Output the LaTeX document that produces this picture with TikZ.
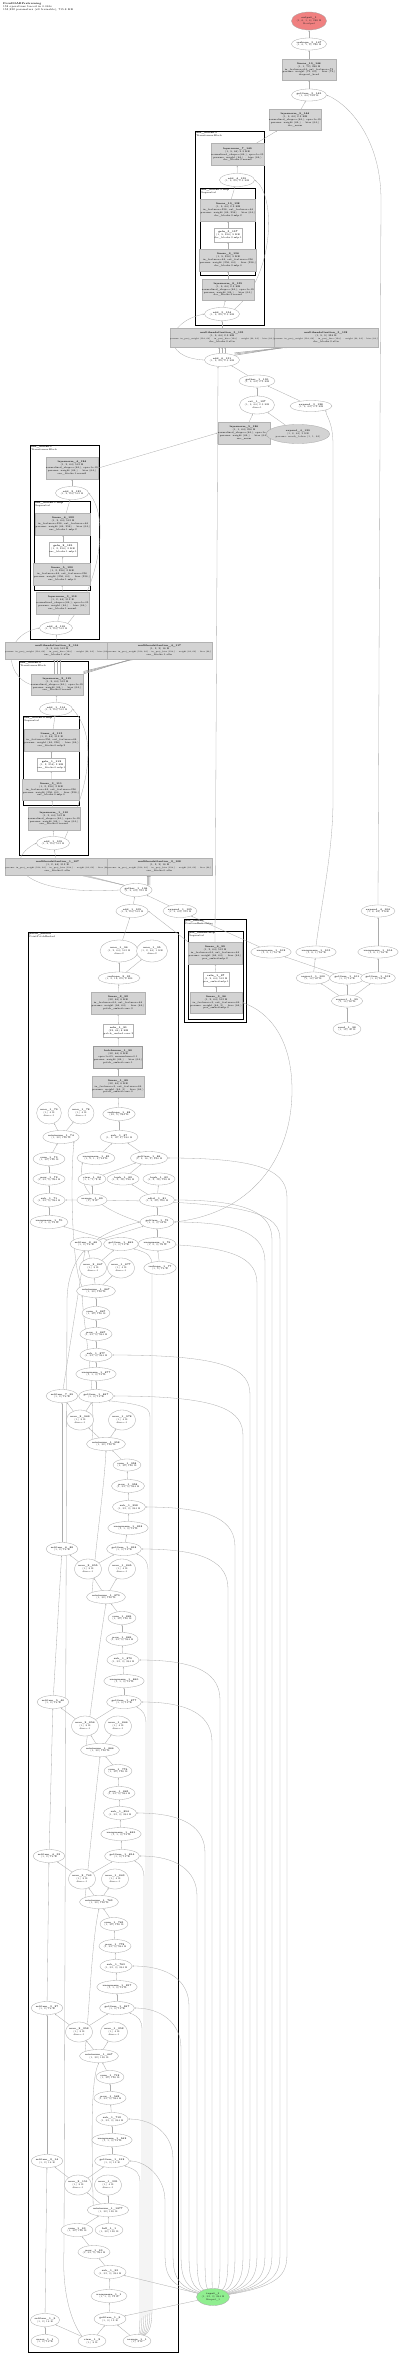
\documentclass[tikz,border=0pt]{standalone}
\usepackage{fontspec}
\usetikzlibrary{shapes.geometric,arrows.meta}
\definecolor{outred}{HTML}{F08080}
\definecolor{ingreen}{HTML}{90EE90}
\definecolor{modgray}{HTML}{D3D3D3}
\newcommand\tinyfs{\fontsize{2.4}{2.9}\selectfont}
\pgfdeclarelayer{back}\pgfdeclarelayer{mid}\pgfsetlayers{back,mid,main}
\tikzset{
 op/.style={ellipse, draw=gray!70, line width=0.3pt, fill=white, inner sep=0pt, align=center, font=\tinyfs, text=black!85},
 mod/.style={rectangle, draw=gray!60, line width=0.3pt, fill=modgray, inner sep=0.3pt, align=center, font=\tinyfs},
 wbox/.style={rectangle, draw=gray!60, line width=0.3pt, fill=white, inner sep=0.3pt, align=center, font=\tinyfs},
 ed/.style={-{Stealth[length=1.6pt,width=1.2pt]}, draw=gray!65, line width=0.3pt},
 bed/.style={-{Stealth[length=1.8pt,width=1.4pt]}, draw=gray!75, line width=0.5pt},
 clu/.style={draw=black, line width=0.9pt},
 clui/.style={draw=black, line width=0.6pt},
 clab/.style={anchor=north west, font=\tinyfs, align=left, inner sep=0.6pt},
}
\newcommand\opE[5]{\node[op,minimum width=#3pt,minimum height=#4pt] (#1) at (#2) {#5};}
\newcommand\opB[5]{\node[mod,minimum width=#3pt,minimum height=#4pt] (#1) at (#2) {#5};}
\newcommand\opW[5]{\node[wbox,minimum width=#3pt,minimum height=#4pt] (#1) at (#2) {#5};}
\newcommand\nm[1]{\textbf{#1}}
\newcommand\mhaparams{{\fontsize{1.95}{2.9}\selectfont params: in\_proj\_weight (192, 64) · in\_proj\_bias (192,) · weight (64, 64) · bias (64,)}}
\newcommand\lnparams{normalized\_shape=(64,), eps=1e-05\\params: weight (64,) · bias (64,)}
\newcommand\fpsE[8]{\draw[ed] (#1)--(#2); \draw[ed] (#2)--(#3); \draw[ed] (#3)--(#4); \draw[ed] (#4)--(#5); \draw[ed] (#5)--(#6); \draw[ed] (#6)--(#7); \draw[ed] (#6)--(#8);}
\newcommand\inE[3]{\draw[ed] (in1) .. controls (#2,2285) and (#2,2270) .. (#2,2250) -- (#2,#3+40) .. controls (#2,#3+15) and (#2-20,#3) .. (#1.east);}
\newcommand\arE[3]{\draw[ed] (ar1) .. controls (#2,2330) and (#2,2320) .. (#2,2300) -- (#2,#3+22) .. controls (#2,#3+12) and (#2-3,#3+9) .. (#1.south east);}
\begin{document}
\begin{tikzpicture}[x=1pt,y=-1pt]
\useasboundingbox (0,0) rectangle (400,2355);
\begin{pgfonlayer}{back}
\fill[white] (0,0) rectangle (400,2355);
\draw[clu] (195,131) rectangle (264,325);
\draw[clui] (200,188) rectangle (255,275);
\draw[clu] (30,445) rectangle (99,639);
\draw[clui] (34,501) rectangle (90,590);
\draw[clu] (19,661) rectangle (88,855);
\draw[clui] (23,716) rectangle (79,805);
\draw[clu] (28,932) rectangle (178,2352);
\draw[clu] (184,919) rectangle (246,1022);
\draw[clui] (188,931) rectangle (243,1019);
\end{pgfonlayer}
\node[clab] (L1) at (195.5,131.5) {\textbf{dec\_blocks.3}\\TransformerBlock};
\node[clab] (L2) at (200.5,188.5) {\textbf{dec\_blocks.3.mlp}\\Sequential};
\node[clab] (L3) at (30.5,445.5) {\textbf{enc\_blocks.1}\\TransformerBlock};
\node[clab] (L4) at (34.5,501.5) {\textbf{enc\_blocks.1.mlp}\\Sequential};
\node[clab] (L5) at (19.5,661.5) {\textbf{enc\_blocks.0}\\TransformerBlock};
\node[clab] (L6) at (23.5,716.5) {\textbf{enc\_blocks.0.mlp}\\Sequential};
\node[clab] (L7) at (28.5,932.5) {\textbf{patch\_embed}\\PointPatchEmbed};
\node[clab] (L8) at (184.5,919.5) {\textbf{pos\_embed}\\PositionEmbedding};
\node[clab] (L9) at (188.5,931.5) {\textbf{pos\_embed.mlp}\\Sequential};
\node[anchor=north west,font=\fontsize{2.6}{3.1}\selectfont,align=left,inner sep=0pt] (title) at (3,2) {\textbf{PointMAEPretraining}\\152 operations traced in 0.061s\\153,232 parameters (all trainable), 715.8 KB};
% ---- top
\node[op,fill=outred,minimum width=35pt,minimum height=18pt] (out1) at (309,21) {\nm{output\_1}\\(1, 6, 1, 6) 288 B\\@output};
\opE{rs147}{309,44}{35}{12}{\nm{reshape\_3\_147}\\(1, 6, 1, 6) 288 B}
\opB{ln146}{309,69.5}{44}{21}{\nm{linear\_10\_146}\\(1, 1, 72) 288 B\\in\_features=64, out\_features=72\\params: weight (72, 64) · bias (72,)\\dropout\_head}
\opE{g145}{309,95}{35}{12}{\nm{getitem\_3\_145}\\(1, 64) 256 B}
\opB{ln144}{295,120}{46}{21}{\nm{layernorm\_9\_144}\\(1, 9, 64) 2.3 KB\\\lnparams\\dec\_norm}
\opB{ln140}{237.5,154.5}{47}{22}{\nm{layernorm\_7\_140}\\(1, 9, 64) 2.3 KB\\\lnparams\\dec\_blocks.3.norm2}
\opE{a139}{237,180}{35}{13}{\nm{add\_4\_139}\\(1, 9, 64) 2.3 KB}
\opB{l138}{228,210}{48}{22}{\nm{linear\_10\_138}\\(1, 9, 64) 2.3 KB\\in\_features=256, out\_features=64\\params: weight (64, 256) · bias (64,)\\dec\_blocks.3.mlp.2}
\opW{ge137}{228,235}{28}{14}{\nm{gelu\_3\_137}\\(1, 9, 256) 9 KB\\dec\_blocks.3.mlp.1}
\opB{l136}{228,260}{48}{22}{\nm{linear\_9\_136}\\(1, 9, 256) 9 KB\\in\_features=64, out\_features=256\\params: weight (256, 64) · bias (256,)\\dec\_blocks.3.mlp.0}
\opB{ln135}{228,289.5}{46}{21}{\nm{layernorm\_8\_135}\\(1, 9, 64) 2.3 KB\\\lnparams\\dec\_blocks.3.norm1}
\opE{a134}{222,314}{35}{13}{\nm{add\_3\_134}\\(1, 9, 64) 2.3 KB}
\opB{m133}{222,337.5}{100}{19}{\nm{multiheadattention\_3\_133}\\(1, 9, 64) 2.3 KB\\\mhaparams\\dec\_blocks.3.attn}
\opB{m132}{326,337.5}{100}{19}{\nm{multiheadattention\_3\_132}\\(1, 9, 9) 324 B\\\mhaparams\\dec\_blocks.3.attn}
\opE{a131}{222,360}{35}{13}{\nm{add\_6\_131}\\(1, 9, 64) 2.3 KB}
\opE{g130}{257,381}{36}{12}{\nm{gather\_1\_130}\\(1, 9, 64) 2.3 KB}
\opE{c127}{257,405}{35}{18}{\nm{cat\_1\_127}\\(1, 9, 64) 2.3 KB\\dim=1}
\opE{e128}{311,406}{42}{11}{\nm{expand\_3\_128}\\(1, 9, 64) 2.3 KB}
\opB{ln126}{244,433}{46}{22}{\nm{layernorm\_5\_126}\\(1, 1, 64) 256 B\\\lnparams\\enc\_norm}
\node[op,fill=modgray,minimum width=55pt,minimum height=19pt] (e129) at (298,434) {\nm{expand\_4\_129}\\(1, 8, 64) 2 KB\\params: mask\_token (1, 1, 64)};
% ---- enc_blocks.1
\opB{ln124}{72,468}{46}{22}{\nm{layernorm\_4\_124}\\(1, 2, 64) 512 B\\\lnparams\\enc\_blocks.1.norm2}
\opE{a123}{72,493}{33}{13}{\nm{add\_2\_123}\\(1, 2, 64) 512 B}
\opB{l122}{63,524}{46}{22}{\nm{linear\_6\_122}\\(1, 2, 64) 512 B\\in\_features=256, out\_features=64\\params: weight (64, 256) · bias (64,)\\enc\_blocks.1.mlp.2}
\opW{ge121}{63,549}{28}{14}{\nm{gelu\_2\_121}\\(1, 2, 256) 2 KB\\enc\_blocks.1.mlp.1}
\opB{l120}{62,574}{48}{22}{\nm{linear\_5\_120}\\(1, 2, 256) 2 KB\\in\_features=64, out\_features=256\\params: weight (256, 64) · bias (256,)\\enc\_blocks.1.mlp.0}
\opB{ln119}{62.5,603}{45}{22}{\nm{layernorm\_3\_119}\\(1, 2, 64) 512 B\\\lnparams\\enc\_blocks.1.norm1}
\opE{a118}{56,628}{33}{13}{\nm{add\_4\_118}\\(1, 2, 64) 512 B}
\opB{m116}{57,650.5}{100}{17}{\nm{multiheadattention\_2\_116}\\(1, 2, 64) 512 B\\\mhaparams\\enc\_blocks.1.attn}
\opB{m117}{159.5,650.5}{101}{17}{\nm{multiheadattention\_4\_117}\\(1, 2, 2) 16 B\\\mhaparams\\enc\_blocks.1.attn}
% ---- enc_blocks.0
\opB{ln115}{57,684.5}{46}{21}{\nm{layernorm\_2\_115}\\(1, 2, 64) 512 B\\\lnparams\\enc\_blocks.0.norm2}
\opE{a114}{56,709}{33}{13}{\nm{add\_1\_114}\\(1, 2, 64) 512 B}
\opB{l113}{51.5,740}{47}{22}{\nm{linear\_4\_113}\\(1, 2, 64) 512 B\\in\_features=256, out\_features=64\\params: weight (64, 256) · bias (64,)\\enc\_blocks.0.mlp.2}
\opW{ge112}{51.5,764.5}{27}{13}{\nm{gelu\_1\_112}\\(1, 2, 256) 2 KB\\enc\_blocks.0.mlp.1}
\opB{l111}{51,789.5}{48}{21}{\nm{linear\_3\_111}\\(1, 2, 256) 2 KB\\in\_features=64, out\_features=256\\params: weight (256, 64) · bias (256,)\\enc\_blocks.0.mlp.0}
\opB{ln110}{54,818.5}{46}{23}{\nm{layernorm\_1\_110}\\(1, 2, 64) 512 B\\\lnparams\\enc\_blocks.0.norm1}
\opE{a109}{53,843}{33}{13}{\nm{add\_1\_109}\\(1, 2, 64) 512 B}
\opB{m107}{57.5,866.5}{101}{17}{\nm{multiheadattention\_1\_107}\\(1, 2, 64) 512 B\\\mhaparams\\enc\_blocks.0.attn}
\opB{m108}{159.5,866.5}{101}{17}{\nm{multiheadattention\_2\_108}\\(1, 2, 2) 16 B\\\mhaparams\\enc\_blocks.0.attn}
\opE{g106}{136,890}{32}{13}{\nm{gather\_1\_106}\\(1, 2, 64) 512 B}
\opE{a105}{132,911}{29}{13}{\nm{add\_1\_105}\\(1, 2, 64) 512 B}
\opE{e105}{180,911}{29}{13}{\nm{expand\_1\_105}\\(1, 2, 64) 512 B}
% ---- right group
\opE{e104}{378,911}{30}{12}{\nm{expand\_4\_104}\\(1, 8, 64) 2 KB}
\opE{u102}{271,952}{31}{12}{\nm{unsqueeze\_1\_102}\\(1, 2, 1) 16 B}
\opE{u103}{316,952}{28}{12}{\nm{unsqueeze\_1\_103}\\(1, 8, 1) 64 B}
\opE{u104}{378,952}{30}{12}{\nm{unsqueeze\_1\_104}\\(1, 8, 1) 64 B}
\opE{g100}{313,978}{26}{12}{\nm{argsort\_1\_100}\\(1, 10) 80 B}
\opE{g101}{347,978}{26}{12}{\nm{getitem\_1\_101}\\(1, 2) 16 B}
\opE{g102}{378,978}{26}{12}{\nm{getitem\_1\_102}\\(1, 8) 64 B}
\opE{as99}{347,1001}{28}{12}{\nm{argsort\_1\_99}\\(1, 10) 80 B}
\opE{r98}{347,1029}{28}{13}{\nm{rand\_1\_98}\\(1, 10) 40 B}
% ---- pos embed
\opB{l99}{215,953}{46}{22}{\nm{linear\_4\_99}\\(1, 2, 64) 512 B\\in\_features=64, out\_features=64\\params: weight (64, 64) · bias (64,)\\pos\_embed.mlp.2}
\opW{r97}{216,979}{24}{14}{\nm{relu\_1\_97}\\(1, 2, 64) 512 B\\pos\_embed.mlp.1}
\opB{l96}{216,1002.5}{44}{21}{\nm{linear\_3\_96}\\(1, 2, 64) 512 B\\in\_features=3, out\_features=64\\params: weight (64, 3) · bias (64,)\\pos\_embed.mlp.0}
% ---- patch embed top
\opE{x94}{119,951}{38}{22}{\nm{max\_1\_94}\\(1, 2, 64) 512 B\\dim=2}
\opE{x95}{152,951}{26}{22}{\nm{max\_1\_95}\\(1, 2, 64) 1 KB\\dim=2}
\opE{rs93}{119,978}{42}{12}{\nm{reshape\_2\_93}\\(1, 2, 16, 64) 8 KB}
\opB{l92}{118,1003}{44}{22}{\nm{linear\_2\_92}\\(32, 64) 8 KB\\in\_features=64, out\_features=64\\params: weight (64, 64) · bias (64,)\\patch\_embed.conv.3}
\opW{r91}{118.5,1030.5}{29}{13}{\nm{relu\_1\_91}\\(32, 64) 8 KB\\patch\_embed.conv.2}
\node[mod,draw=gray!80,line width=0.7pt,minimum width=42pt,minimum height=22pt] (bn90) at (118,1057) {\nm{batchnorm\_1\_90}\\(32, 64) 8 KB\\eps=1e-05, momentum=0.1\\params: weight (64,) · bias (64,)\\patch\_embed.conv.1};
\opB{l89}{118,1086.5}{42}{21}{\nm{linear\_1\_89}\\(32, 64) 8 KB\\in\_features=3, out\_features=64\\params: weight (64, 3) · bias (64,)\\patch\_embed.conv.0}
\opE{rs88}{119,1114}{32}{13}{\nm{reshape\_1\_88}\\(32, 3) 384 B}
\opE{s87}{119,1137}{38}{13}{\nm{sub\_1\_87}\\(1, 2, 16, 3) 384 B}
\opE{u85}{96,1158}{32}{13}{\nm{unsqueeze\_1\_85}\\(1, 2, 1, 3) 24 B}
\opE{g86}{149,1158}{34}{13}{\nm{getitem\_1\_86}\\(1, 2, 16, 3) 384 B}
\opE{x79}{49,1113}{24}{22}{\nm{max\_1\_79}\\(1,) 4 B\\dim=-1}
\opE{x78}{81,1113}{26}{22}{\nm{max\_1\_78}\\(1,) 4 B\\dim=-1}
\opE{mn74}{61,1137}{36}{13}{\nm{minimum\_1\_74}\\(1, 32) 128 B}
\opE{sm73}{49,1159}{32}{13}{\nm{sum\_1\_73}\\(1, 32) 128 B}
\opE{pw72}{49,1179}{32}{12}{\nm{pow\_1\_72}\\(1, 32, 3) 384 B}
\opE{v84}{92,1179}{28}{12}{\nm{view\_1\_84}\\(1, 1, 1) 8 B}
\opE{t82}{123,1179}{31}{12}{\nm{topk\_1\_82}\\(1, 2, 16) 128 B}
\opE{t83}{159,1179}{31}{12}{\nm{topk\_1\_83}\\(1, 2, 16) 128 B}
\opE{s71}{49,1200}{32}{13}{\nm{sub\_1\_71}\\(1, 32, 3) 384 B}
\opE{rs80}{92,1200}{28}{12}{\nm{arange\_1\_80}\\(1,) 8 B}
\opE{cd81}{157,1200}{35}{13}{\nm{cdist\_1\_81}\\(1, 2, 32) 256 B}
\opE{u70}{49,1222}{36}{13}{\nm{unsqueeze\_1\_70}\\(1, 1, 3) 12 B}
\opE{g75}{157,1222}{34}{13}{\nm{getitem\_1\_75}\\(1, 2, 3) 24 B}
\opE{st68}{86,1244}{28}{13}{\nm{setitem\_8\_68}\\(1, 2) 16 B}
\opE{g869}{121,1244}{32}{13}{\nm{getitem\_1\_869}\\(1, 3) 12 B}
\opE{u76}{157,1244}{34}{13}{\nm{unsqueeze\_1\_76}\\(1, 2, 3) 24 B}
\opE{xa867}{93,1268}{26}{20}{\nm{max\_2\_867}\\(1,) 8 B\\dim=-1}
\opE{xb877}{121,1268}{26}{20}{\nm{max\_1\_877}\\(1,) 4 B\\dim=-1}
\opE{rs77}{160,1268}{28}{13}{\nm{reshape\_1\_77}\\(1, 2) 16 B}
% ---- FPS block 6
\opE{mn867}{96,1291}{36}{13}{\nm{minimum\_1\_867}\\(1, 32) 128 B}
\opE{sm867}{96,1313}{28}{13}{\nm{sum\_1\_867}\\(1, 32) 128 B}
\opE{pw867}{96,1334}{30}{13}{\nm{pow\_1\_867}\\(1, 32, 3) 384 B}
\opE{sb877}{96,1355}{32}{13}{\nm{sub\_1\_877}\\(1, 32, 3) 384 B}
\opE{un877}{96,1374}{36}{13}{\nm{unsqueeze\_1\_877}\\(1, 1, 3) 12 B}
\opE{st99}{62,1396}{28}{13}{\nm{setitem\_7\_99}\\(1, 2) 16 B}
\opE{g867}{96,1396}{33}{13}{\nm{getitem\_1\_867}\\(1, 3) 12 B}
\opE{xa969}{80,1420}{27}{20}{\nm{max\_2\_969}\\(1,) 8 B\\dim=-1}
\opE{xb978}{122,1420}{26}{20}{\nm{max\_1\_978}\\(1,) 4 B\\dim=-1}
% ---- block 5
\opE{mn958}{106,1444}{36}{13}{\nm{minimum\_1\_958}\\(1, 32) 128 B}
\opE{sm958}{127,1465}{28}{12}{\nm{sum\_1\_958}\\(1, 32) 128 B}
\opE{pw958}{128,1486}{33}{13}{\nm{pow\_1\_958}\\(1, 32, 3) 384 B}
\opE{sb958}{129,1507}{33}{13}{\nm{sub\_1\_958}\\(1, 32, 3) 384 B}
\opE{un958}{128,1528}{36}{13}{\nm{unsqueeze\_1\_958}\\(1, 1, 3) 12 B}
\opE{g958}{124,1549}{32}{13}{\nm{getitem\_1\_958}\\(1, 3) 12 B}
\opE{st88}{62,1549}{28}{13}{\nm{setitem\_6\_88}\\(1, 2) 16 B}
\opE{xa855}{88,1569}{26}{20}{\nm{max\_2\_855}\\(1,) 8 B\\dim=-1}
\opE{xb865}{122,1569}{26}{20}{\nm{max\_1\_865}\\(1,) 4 B\\dim=-1}
% ---- block 4
\opE{mn870}{106,1597}{36}{13}{\nm{minimum\_1\_870}\\(1, 32) 128 B}
\opE{sm869}{122,1618}{28}{13}{\nm{sum\_1\_869}\\(1, 32) 128 B}
\opE{pw869}{122,1639}{30}{13}{\nm{pow\_1\_869}\\(1, 32, 3) 384 B}
\opE{sb870}{123,1660}{32}{13}{\nm{sub\_1\_870}\\(1, 32, 3) 384 B}
\opE{un860}{124,1681}{36}{13}{\nm{unsqueeze\_1\_860}\\(1, 1, 3) 12 B}
\opE{g877}{124,1702}{32}{13}{\nm{getitem\_1\_877}\\(1, 3) 12 B}
\opE{st40}{53,1702}{28}{13}{\nm{setitem\_5\_40}\\(1, 2) 16 B}
\opE{xa854}{85,1726}{27}{20}{\nm{max\_2\_854}\\(1,) 8 B\\dim=-1}
\opE{xb864}{118,1726}{26}{20}{\nm{max\_1\_864}\\(1,) 4 B\\dim=-1}
% ---- block 3
\opE{mn864}{100,1750}{34}{13}{\nm{minimum\_1\_864}\\(1, 32) 128 B}
\opE{sm774}{118,1771}{28}{13}{\nm{sum\_1\_774}\\(1, 32) 128 B}
\opE{pw863}{119,1793}{32}{13}{\nm{pow\_1\_863}\\(1, 32, 3) 384 B}
\opE{sb854}{120,1813}{33}{13}{\nm{sub\_1\_854}\\(1, 32, 3) 384 B}
\opE{un845}{121,1834}{36}{13}{\nm{unsqueeze\_1\_845}\\(1, 1, 3) 12 B}
\opE{g854}{122,1856}{32}{13}{\nm{getitem\_1\_854}\\(1, 3) 12 B}
\opE{st32}{49,1856}{28}{13}{\nm{setitem\_4\_32}\\(1, 2) 16 B}
\opE{xa763}{82,1879}{27}{20}{\nm{max\_2\_763}\\(1,) 8 B\\dim=-1}
\opE{xb863}{115,1879}{26}{20}{\nm{max\_1\_863}\\(1,) 4 B\\dim=-1}
% ---- block 2
\opE{mn763}{99,1902}{36}{13}{\nm{minimum\_1\_763}\\(1, 32) 128 B}
\opE{sm763}{114,1924}{28}{13}{\nm{sum\_1\_763}\\(1, 32) 128 B}
\opE{pw778}{115,1946}{32}{13}{\nm{pow\_1\_778}\\(1, 32, 3) 384 B}
\opE{sb763}{116,1966}{32}{13}{\nm{sub\_1\_763}\\(1, 32, 3) 384 B}
\opE{un257}{117,1987}{36}{13}{\nm{unsqueeze\_1\_257}\\(1, 1, 3) 12 B}
\opE{g267}{117,2008}{33}{13}{\nm{getitem\_1\_267}\\(1, 3) 12 B}
\opE{st27}{47,2008}{28}{13}{\nm{setitem\_3\_27}\\(1, 2) 16 B}
\opE{xa252}{79,2032}{27}{20}{\nm{max\_2\_252}\\(1,) 8 B\\dim=-1}
\opE{xb252}{114,2032}{26}{20}{\nm{max\_1\_252}\\(1,) 4 B\\dim=-1}
% ---- block 1
\opE{mn667}{99,2056}{36}{13}{\nm{minimum\_1\_667}\\(1, 32) 128 B}
\opE{sm712}{110,2077}{28}{13}{\nm{sum\_1\_712}\\(1, 32) 128 B}
\opE{pw562}{110,2098}{32}{13}{\nm{pow\_1\_562}\\(1, 32, 3) 384 B}
\opE{sb712}{112,2119}{32}{13}{\nm{sub\_1\_712}\\(1, 32, 3) 384 B}
\opE{un562}{112,2140}{36}{13}{\nm{unsqueeze\_1\_562}\\(1, 1, 3) 12 B}
\opE{st14}{47,2161}{28}{13}{\nm{setitem\_2\_14}\\(1, 2) 16 B}
\opE{g152}{112,2161}{32}{13}{\nm{getitem\_1\_152}\\(1, 3) 12 B}
\opE{xa151}{78,2185}{26}{20}{\nm{max\_2\_151}\\(1,) 8 B\\dim=-1}
\opE{xb321}{108,2185}{26}{20}{\nm{max\_1\_321}\\(1,) 4 B\\dim=-1}
% ---- block 0
\opE{mn1877}{108,2210}{36}{13}{\nm{minimum\_1\_1877}\\(1, 32) 128 B}
\opE{sm93}{77,2230}{32}{13}{\nm{sum\_1\_93}\\(1, 32) 128 B}
\opE{fl1}{109,2230}{28}{13}{\nm{full\_1\_1}\\(1, 32) 128 B}
\opE{pw93}{94,2252}{32}{13}{\nm{pow\_1\_93}\\(1, 32, 3) 384 B}
\opE{sb93}{110,2272}{32}{13}{\nm{sub\_1\_93}\\(1, 32, 3) 384 B}
\opE{un1}{109,2296}{36}{13}{\nm{unsqueeze\_1\_1}\\(1, 1, 3) 12 B}
\opE{st9}{45,2320}{28}{13}{\nm{setitem\_1\_9}\\(1, 2) 16 B}
\opE{g9}{110,2319}{32}{13}{\nm{getitem\_1\_9}\\(1, 3) 12 B}
\opE{zr1}{45,2341}{28}{13}{\nm{zeros\_1\_1}\\(1, 2) 16 B}
\opE{vw2}{92,2341}{28}{13}{\nm{view\_1\_2}\\(1,) 8 B}
\opE{ar1}{137,2341}{28}{13}{\nm{arange\_1\_1}\\(1,) 8 B}
\node[op,fill=ingreen,minimum width=33pt,minimum height=17pt] (in1) at (213,2297) {\nm{input\_1}\\(1, 32, 3) 384 B\\@input\_1};
% ================= edges
\begin{pgfonlayer}{mid}
\draw[ed] (rs147)--(out1);
\draw[ed] (ln146)--(rs147);
\draw[ed] (g145)--(ln146);
\draw[ed] (ln144)--(g145);
\draw[ed] (e104.north) -- (381,200) .. controls (381,140) and (350,105) .. (g145.east);
\draw[ed] (ln140)--(ln144);
\draw[ed] (a139)--(ln140);
\draw[ed] (l138)--(a139);
\draw[ed] (ge137)--(l138);
\draw[ed] (l136)--(ge137);
\draw[ed] (ln135)--(l136);
\draw[ed] (a134)--(ln135);
\draw[ed] (a134.north east) .. controls (275,275) and (276,195) .. (a139.east);
\draw[ed] (m133)--(a134);
\foreach \d in {-3,0,3} \draw[ed] ([xshift=\d pt]a131.north) -- ([xshift=\d pt]m133.south);
\foreach \d in {0,1.2,2.4} \draw[bed] ([yshift=\d pt]a131.north east) -- ([xshift=\d pt-40pt]m132.south);
\draw[ed] (a131.west) .. controls (160,358) and (165,322) .. (a134.west);
\draw[ed] (g130)--(a131);
\draw[ed] (l99.north) -- ([xshift=-4pt]a131.south);
\draw[ed] (c127)--(g130);
\draw[ed] (e128)--(g130);
\draw[ed] (ln126)--(c127);
\draw[ed] (e129)--(c127);
\draw[ed] (u103.north) .. controls (322,900) and (333,850) .. (333,800) -- (333,445) .. controls (333,420) and (325,415) .. (e128.south east);
\draw[ed] (ln124.east)--(ln126.west);
% enc1
\draw[ed] (a123)--(ln124);
\draw[ed] (l122)--(a123);
\draw[ed] (ge121)--(l122);
\draw[ed] (l120)--(ge121);
\draw[ed] (ln119)--(l120);
\draw[ed] (a118)--(ln119);
\draw[ed] (a118.north east) .. controls (96,592) and (112,520) .. (a123.east);
\draw[ed] (m116)--(a118);
\foreach \d in {-3,0,3} \draw[ed] ([xshift=\d pt]ln115.north) -- ([xshift=\d pt]m116.south);
\foreach \d in {0,1.2,2.4} \draw[bed] ([yshift=\d pt]ln115.north east) -- ([xshift=\d pt-28pt]m117.south);
\draw[ed] (ln115.west) .. controls (6,676) and (1,636) .. (a118.west);
% enc0
\draw[ed] (a114)--(ln115);
\draw[ed] (l113)--(a114);
\draw[ed] (ge112)--(l113);
\draw[ed] (l111)--(ge112);
\draw[ed] (ln110)--(l111);
\draw[ed] (a109)--(ln110);
\draw[ed] (a109.north east) .. controls (86,792) and (100,740) .. (a114.east);
\draw[ed] (m107)--(a109);
\foreach \d in {22,25,28} \draw[ed] (g106.north west) -- ([xshift=\d pt]m107.south);
\foreach \d in {0,1.2,2.4} \draw[bed] ([xshift=\d pt]g106.north east) -- ([xshift=\d pt-12pt]m108.south);
\draw[ed] (g106.west) .. controls (20,896) and (1,862) .. (a109.west);
\draw[ed] (a105)--(g106);
\draw[ed] (e105)--(g106);
\draw[ed] (x94)--(a105);
\draw[ed] (l99.north west)--(a105.east);
\draw[ed] (u102)--(e105);
\draw[ed] (u104)--(e104);
\draw[ed] (g100)--(u103);
\draw[ed] (g101)--(u102);
\draw[ed] (g102)--(u104);
\draw[ed] (as99)--(g100);
\draw[ed] (as99)--(g101);
\draw[ed] (as99)--(g102);
\draw[ed] (r98)--(as99);
% pos embed
\draw[ed] (r97)--(l99);
\draw[ed] (l96)--(r97);
\draw[ed] (g75.east) .. controls (250,1214) and (292,1160) .. (292,1090) .. controls (292,1040) and (270,1012) .. (l96.east);
% patch embed top
\draw[ed] (rs93)--(x94);
\draw[ed] (rs93)--(x95);
\draw[ed] (l92)--(rs93);
\draw[ed] (r91)--(l92);
\draw[ed] (bn90)--(r91);
\draw[ed] (l89)--(bn90);
\draw[ed] (rs88)--(l89);
\draw[ed] (s87)--(rs88);
\draw[ed] (u85)--(s87);
\draw[ed] (g86)--(s87);
\draw[ed] (t82)--(g86);
\draw[ed] (v84)--(g86);
\draw[ed] (rs80)--(v84);
\draw[ed] (cd81)--(t83);
\draw[ed] (cd81)--(t82);
\draw[ed] (g75)--(cd81);
\draw[ed] (u76)--(g75);
\draw[ed] (rs77)--(u76);
\draw[ed] (st68)--(g75);
\draw[ed] (g75.west) .. controls (110,1212) and (76,1196) .. (u85.south west);
\draw[ed] (vw2.north west) .. controls (70,2320) and (62,2290) .. (64,2250) -- (67,1300) .. controls (68,1250) and (100,1232) .. (g75.west);
% FPS blocks
\fpsE{g9}{un1}{sb93}{pw93}{sm93}{mn1877}{xa151}{xb321}
\fpsE{g152}{un562}{sb712}{pw562}{sm712}{mn667}{xa252}{xb252}
\fpsE{g267}{un257}{sb763}{pw778}{sm763}{mn763}{xa763}{xb863}
\fpsE{g854}{un845}{sb854}{pw863}{sm774}{mn864}{xa854}{xb864}
\fpsE{g877}{un860}{sb870}{pw869}{sm869}{mn870}{xa855}{xb865}
\fpsE{g958}{un958}{sb958}{pw958}{sm958}{mn958}{xa969}{xb978}
\fpsE{g867}{un877}{sb877}{pw867}{sm867}{mn867}{xa867}{xb877}
\fpsE{g869}{u70}{s71}{pw72}{sm73}{mn74}{x79}{x78}
\draw[ed] (xa151)--(g152); \draw[ed] (xa151)--(st14);
\draw[ed] (xa252)--(g267); \draw[ed] (xa252)--(st27);
\draw[ed] (xa763)--(g854); \draw[ed] (xa763)--(st32);
\draw[ed] (xa854)--(g877); \draw[ed] (xa854)--(st40);
\draw[ed] (xa855)--(g958); \draw[ed] (xa855)--(st88);
\draw[ed] (xa969)--(g867); \draw[ed] (xa969)--(st99);
\draw[ed] (xa867)--(g869); \draw[ed] (xa867)--(st68);
\draw[ed] (fl1)--(mn1877);
\draw[ed] (mn1877.north west) .. controls (92,2150) and (90,2080) .. (mn667.south);
\draw[ed] (mn667.north west) .. controls (90,2000) and (92,1940) .. (mn763.south);
\draw[ed] (mn763.north west) .. controls (90,1850) and (96,1790) .. (mn864.south);
\draw[ed] (mn864.north west) .. controls (92,1700) and (100,1640) .. (mn870.south);
\draw[ed] (mn870.north west) .. controls (96,1540) and (104,1490) .. (mn958.south);
\draw[ed] (mn958.north west) .. controls (96,1390) and (84,1330) .. (mn867.south west);
\draw[ed] (mn867.north west) .. controls (72,1270) and (70,1180) .. (mn74.south east);
\draw[ed] (zr1)--(st9); \draw[ed] (st9)--(st14); \draw[ed] (st14)--(st27); \draw[ed] (st27)--(st32);
\draw[ed] (st32)--(st40); \draw[ed] (st40)--(st88); \draw[ed] (st88)--(st99); \draw[ed] (st99)--(st68);
\draw[ed] (vw2)--(st9);
\draw[ed] (vw2)--(g9);
\draw[ed] (ar1)--(g9);
\arE{g152}{140}{2161}
\arE{g267}{142}{2008}
\arE{g854}{144}{1856}
\arE{g877}{146}{1702}
\arE{g958}{148}{1549}
\arE{g867}{150}{1396}
\arE{g869}{152}{1244}
\inE{g86}{287}{1158}
\inE{s71}{280}{1200}
\inE{cd81}{272}{1200}
\inE{g75}{265}{1222}
\inE{g869}{257}{1244}
\inE{sb877}{250}{1355}
\inE{g867}{243}{1396}
\inE{sb958}{235}{1507}
\inE{g958}{228}{1549}
\inE{sb870}{220}{1660}
\inE{g877}{212}{1702}
\inE{sb854}{205}{1813}
\inE{g854}{197}{1856}
\inE{sb763}{189}{1966}
\inE{g267}{181}{2008}
\inE{sb712}{173}{2119}
\inE{g152}{165}{2161}
\draw[ed] (in1)--(sb93);
\draw[ed] (in1)--(g9);
\end{pgfonlayer}
\end{tikzpicture}
\end{document}
